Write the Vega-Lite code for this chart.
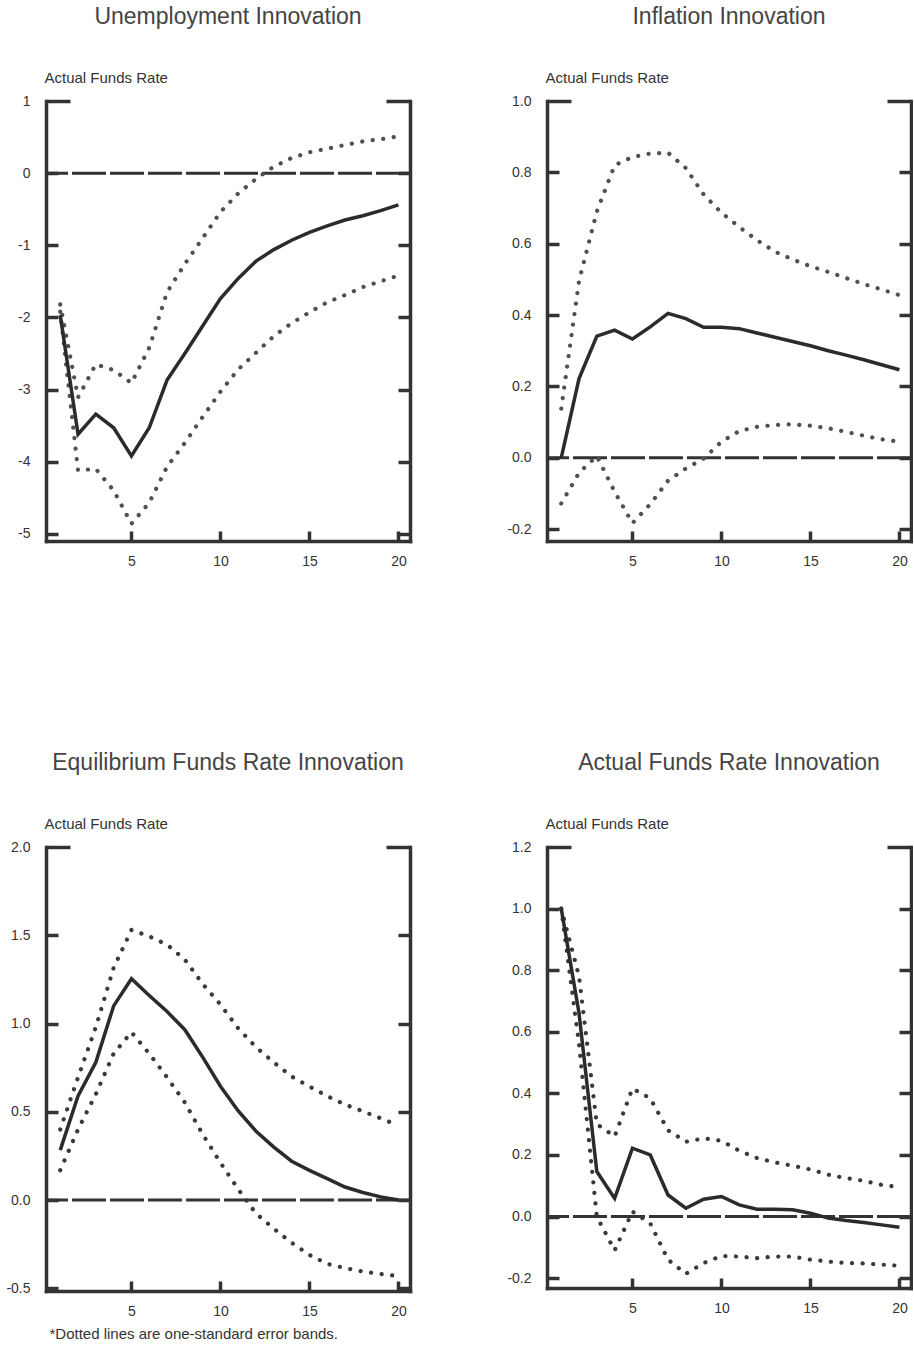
{
  "$schema": "https://vega.github.io/schema/vega-lite/v6.json",
  "background": "white",
  "padding": {"left": 5, "top": 6, "right": 0, "bottom": 0},
  "datasets": {
    "irf": [
      {"panel": "U", "step": 1, "response": -1.97, "upper": -1.82, "lower": -1.92},
      {"panel": "U", "step": 2, "response": -3.62, "upper": -3.11, "lower": -4.12},
      {"panel": "U", "step": 3, "response": -3.34, "upper": -2.65, "lower": -4.10},
      {"panel": "U", "step": 4, "response": -3.53, "upper": -2.73, "lower": -4.40},
      {"panel": "U", "step": 5, "response": -3.92, "upper": -2.91, "lower": -4.86},
      {"panel": "U", "step": 6, "response": -3.53, "upper": -2.42, "lower": -4.57},
      {"panel": "U", "step": 7, "response": -2.87, "upper": -1.65, "lower": -4.07},
      {"panel": "U", "step": 8, "response": -2.50, "upper": -1.26, "lower": -3.74},
      {"panel": "U", "step": 9, "response": -2.12, "upper": -0.90, "lower": -3.38},
      {"panel": "U", "step": 10, "response": -1.74, "upper": -0.54, "lower": -3.03},
      {"panel": "U", "step": 11, "response": -1.46, "upper": -0.28, "lower": -2.72},
      {"panel": "U", "step": 12, "response": -1.22, "upper": -0.08, "lower": -2.49},
      {"panel": "U", "step": 13, "response": -1.06, "upper": 0.09, "lower": -2.26},
      {"panel": "U", "step": 14, "response": -0.93, "upper": 0.21, "lower": -2.08},
      {"panel": "U", "step": 15, "response": -0.82, "upper": 0.29, "lower": -1.93},
      {"panel": "U", "step": 16, "response": -0.73, "upper": 0.34, "lower": -1.79},
      {"panel": "U", "step": 17, "response": -0.65, "upper": 0.39, "lower": -1.69},
      {"panel": "U", "step": 18, "response": -0.59, "upper": 0.44, "lower": -1.58},
      {"panel": "U", "step": 19, "response": -0.52, "upper": 0.47, "lower": -1.50},
      {"panel": "U", "step": 20, "response": -0.44, "upper": 0.51, "lower": -1.42},
      {"panel": "I", "step": 1, "response": 0.0, "upper": 0.138, "lower": -0.128},
      {"panel": "I", "step": 2, "response": 0.222, "upper": 0.496, "lower": -0.042},
      {"panel": "I", "step": 3, "response": 0.341, "upper": 0.69, "lower": 0.005},
      {"panel": "I", "step": 4, "response": 0.358, "upper": 0.82, "lower": -0.095},
      {"panel": "I", "step": 5, "response": 0.333, "upper": 0.843, "lower": -0.183},
      {"panel": "I", "step": 6, "response": 0.367, "upper": 0.853, "lower": -0.13},
      {"panel": "I", "step": 7, "response": 0.405, "upper": 0.855, "lower": -0.064},
      {"panel": "I", "step": 8, "response": 0.39, "upper": 0.812, "lower": -0.03},
      {"panel": "I", "step": 9, "response": 0.366, "upper": 0.738, "lower": -0.002},
      {"panel": "I", "step": 10, "response": 0.366, "upper": 0.687, "lower": 0.045},
      {"panel": "I", "step": 11, "response": 0.362, "upper": 0.647, "lower": 0.075},
      {"panel": "I", "step": 12, "response": 0.35, "upper": 0.61, "lower": 0.087},
      {"panel": "I", "step": 13, "response": 0.338, "upper": 0.578, "lower": 0.092},
      {"panel": "I", "step": 14, "response": 0.326, "upper": 0.556, "lower": 0.094},
      {"panel": "I", "step": 15, "response": 0.314, "upper": 0.537, "lower": 0.09},
      {"panel": "I", "step": 16, "response": 0.30, "upper": 0.521, "lower": 0.083},
      {"panel": "I", "step": 17, "response": 0.288, "upper": 0.504, "lower": 0.073},
      {"panel": "I", "step": 18, "response": 0.275, "upper": 0.487, "lower": 0.062},
      {"panel": "I", "step": 19, "response": 0.261, "upper": 0.472, "lower": 0.052},
      {"panel": "I", "step": 20, "response": 0.247, "upper": 0.456, "lower": 0.045},
      {"panel": "E", "step": 1, "response": 0.283, "upper": 0.40, "lower": 0.169},
      {"panel": "E", "step": 2, "response": 0.59, "upper": 0.695, "lower": 0.40},
      {"panel": "E", "step": 3, "response": 0.78, "upper": 0.98, "lower": 0.60},
      {"panel": "E", "step": 4, "response": 1.10, "upper": 1.316, "lower": 0.83},
      {"panel": "E", "step": 5, "response": 1.254, "upper": 1.53, "lower": 0.951},
      {"panel": "E", "step": 6, "response": 1.159, "upper": 1.494, "lower": 0.83},
      {"panel": "E", "step": 7, "response": 1.068, "upper": 1.447, "lower": 0.695},
      {"panel": "E", "step": 8, "response": 0.965, "upper": 1.362, "lower": 0.553},
      {"panel": "E", "step": 9, "response": 0.81, "upper": 1.225, "lower": 0.373},
      {"panel": "E", "step": 10, "response": 0.645, "upper": 1.108, "lower": 0.212},
      {"panel": "E", "step": 11, "response": 0.505, "upper": 0.973, "lower": 0.061},
      {"panel": "E", "step": 12, "response": 0.39, "upper": 0.866, "lower": -0.076},
      {"panel": "E", "step": 13, "response": 0.30, "upper": 0.78, "lower": -0.162},
      {"panel": "E", "step": 14, "response": 0.22, "upper": 0.70, "lower": -0.242},
      {"panel": "E", "step": 15, "response": 0.168, "upper": 0.643, "lower": -0.311},
      {"panel": "E", "step": 16, "response": 0.122, "upper": 0.589, "lower": -0.361},
      {"panel": "E", "step": 17, "response": 0.074, "upper": 0.541, "lower": -0.385},
      {"panel": "E", "step": 18, "response": 0.043, "upper": 0.503, "lower": -0.405},
      {"panel": "E", "step": 19, "response": 0.018, "upper": 0.463, "lower": -0.419},
      {"panel": "E", "step": 20, "response": 0.0, "upper": 0.423, "lower": -0.431},
      {"panel": "A", "step": 1, "response": 1.0, "upper": 1.0, "lower": 1.0},
      {"panel": "A", "step": 2, "response": 0.66, "upper": 0.78, "lower": 0.56},
      {"panel": "A", "step": 3, "response": 0.146, "upper": 0.30, "lower": 0.0},
      {"panel": "A", "step": 4, "response": 0.059, "upper": 0.26, "lower": -0.11},
      {"panel": "A", "step": 5, "response": 0.222, "upper": 0.416, "lower": 0.016},
      {"panel": "A", "step": 6, "response": 0.20, "upper": 0.384, "lower": -0.022},
      {"panel": "A", "step": 7, "response": 0.07, "upper": 0.28, "lower": -0.14},
      {"panel": "A", "step": 8, "response": 0.027, "upper": 0.243, "lower": -0.186},
      {"panel": "A", "step": 9, "response": 0.056, "upper": 0.254, "lower": -0.151},
      {"panel": "A", "step": 10, "response": 0.065, "upper": 0.246, "lower": -0.128},
      {"panel": "A", "step": 11, "response": 0.038, "upper": 0.214, "lower": -0.13},
      {"panel": "A", "step": 12, "response": 0.024, "upper": 0.19, "lower": -0.135},
      {"panel": "A", "step": 13, "response": 0.024, "upper": 0.176, "lower": -0.13},
      {"panel": "A", "step": 14, "response": 0.022, "upper": 0.165, "lower": -0.13},
      {"panel": "A", "step": 15, "response": 0.011, "upper": 0.153, "lower": -0.14},
      {"panel": "A", "step": 16, "response": -0.005, "upper": 0.136, "lower": -0.146},
      {"panel": "A", "step": 17, "response": -0.013, "upper": 0.125, "lower": -0.151},
      {"panel": "A", "step": 18, "response": -0.019, "upper": 0.116, "lower": -0.152},
      {"panel": "A", "step": 19, "response": -0.027, "upper": 0.103, "lower": -0.156},
      {"panel": "A", "step": 20, "response": -0.035, "upper": 0.095, "lower": -0.16}
    ]
  },
  "columns": 2,
  "spacing": {"row": 306, "column": 137},
  "bounds": "flush",
  "concat": [
    {
      "width": 364, "height": 440,
      "title": "Unemployment Innovation",
      "layer": [
        {
          "data": {"values": [{"ref": "zero"}]},
          "mark": {"type": "rule", "strokeDash": [34, 4], "strokeWidth": 3, "color": "#333"},
          "encoding": {"y": {"datum": 0, "type": "quantitative", "scale": {"domain": [-5.1, 1], "nice": false, "zero": false},
            "axis": {"orient": "right", "labels": false, "title": null, "values": [-5, -4, -3, -2, -1, 0, 1],
              "tickSize": {"condition": {"test": "datum.value > 0.99", "value": -24}, "value": -12}}}}
        },
        {
          "data": {"name": "irf"},
          "transform": [{"filter": "datum.panel == 'U'"}, {"fold": ["upper", "lower"], "as": ["band", "bandValue"]}],
          "mark": {"type": "line", "strokeDash": [0.1, 10.5], "strokeCap": "round", "strokeWidth": 4.2, "color": "#505050"},
          "encoding": {
            "x": {"field": "step", "type": "quantitative"},
            "y": {"field": "bandValue", "type": "quantitative", "axis": null},
            "detail": {"field": "band"}
          }
        },
        {
          "data": {"name": "irf"},
          "transform": [{"filter": "datum.panel == 'U'"}],
          "mark": {"type": "line", "strokeWidth": 3.5, "color": "#2b2b2b"},
          "encoding": {
            "x": {"field": "step", "type": "quantitative", "scale": {"domain": [0.2, 20.65], "nice": false, "zero": false},
              "axis": {"values": [5, 10, 15, 20], "format": "d", "tickSize": -10, "labelPadding": 23, "title": null}},
            "y": {"field": "response", "type": "quantitative",
              "axis": {"orient": "left", "values": [-5, -4, -3, -2, -1, 0, 1],
                "labelExpr": "replace(format(datum.value, 'd'), '\u2212', '-')",
                "tickSize": {"condition": {"test": "datum.value > 0.99", "value": -24}, "value": -12},
                "labelPadding": {"condition": {"test": "datum.value > 0.99", "value": 40}, "value": 28},
                "title": "Actual Funds Rate", "titleAngle": 0, "titleAlign": "left", "titleBaseline": "alphabetic", "titleX": -2, "titleY": -19}}
          }
        }
      ],
      "resolve": {"axis": {"y": "independent"}}
    },
    {
      "width": 364, "height": 440,
      "title": "Inflation Innovation",
      "layer": [
        {
          "data": {"values": [{"ref": "zero"}]},
          "mark": {"type": "rule", "strokeDash": [34, 4], "strokeWidth": 3, "color": "#333"},
          "encoding": {"y": {"datum": 0, "type": "quantitative", "scale": {"domain": [-0.233, 1.0], "nice": false, "zero": false},
            "axis": {"orient": "right", "labels": false, "title": null, "values": [-0.2, 0, 0.2, 0.4, 0.6, 0.8, 1.0],
              "tickSize": {"condition": {"test": "datum.value > 0.99", "value": -24}, "value": -12}}}}
        },
        {
          "data": {"name": "irf"},
          "transform": [{"filter": "datum.panel == 'I'"}, {"fold": ["upper", "lower"], "as": ["band", "bandValue"]}],
          "mark": {"type": "line", "strokeDash": [0.1, 10.5], "strokeCap": "round", "strokeWidth": 4.2, "color": "#505050"},
          "encoding": {
            "x": {"field": "step", "type": "quantitative"},
            "y": {"field": "bandValue", "type": "quantitative", "axis": null},
            "detail": {"field": "band"}
          }
        },
        {
          "data": {"name": "irf"},
          "transform": [{"filter": "datum.panel == 'I'"}],
          "mark": {"type": "line", "strokeWidth": 3.5, "color": "#2b2b2b"},
          "encoding": {
            "x": {"field": "step", "type": "quantitative", "scale": {"domain": [0.2, 20.65], "nice": false, "zero": false},
              "axis": {"values": [5, 10, 15, 20], "format": "d", "tickSize": -10, "labelPadding": 23, "title": null}},
            "y": {"field": "response", "type": "quantitative",
              "axis": {"orient": "left", "values": [-0.2, 0, 0.2, 0.4, 0.6, 0.8, 1.0],
                "labelExpr": "replace(format(datum.value, '.1f'), '\u2212', '-')",
                "tickSize": {"condition": {"test": "datum.value > 0.99", "value": -24}, "value": -12},
                "labelPadding": {"condition": {"test": "datum.value > 0.99", "value": 40}, "value": 28},
                "title": "Actual Funds Rate", "titleAngle": 0, "titleAlign": "left", "titleBaseline": "alphabetic", "titleX": -2, "titleY": -19}}
          }
        }
      ],
      "resolve": {"axis": {"y": "independent"}}
    },
    {
      "width": 364, "height": 444,
      "title": "Equilibrium Funds Rate Innovation",
      "layer": [
        {
          "data": {"values": [{"ref": "zero"}]},
          "mark": {"type": "rule", "strokeDash": [34, 4], "strokeWidth": 3, "color": "#333"},
          "encoding": {"y": {"datum": 0, "type": "quantitative", "scale": {"domain": [-0.515, 2.0], "nice": false, "zero": false},
            "axis": {"orient": "right", "labels": false, "title": null, "values": [-0.5, 0, 0.5, 1.0, 1.5, 2.0],
              "tickSize": {"condition": {"test": "datum.value > 1.99", "value": -24}, "value": -12}}}}
        },
        {
          "data": {"name": "irf"},
          "transform": [{"filter": "datum.panel == 'E'"}, {"fold": ["upper", "lower"], "as": ["band", "bandValue"]}],
          "mark": {"type": "line", "strokeDash": [0.1, 10.5], "strokeCap": "round", "strokeWidth": 4.2, "color": "#3a3a3a"},
          "encoding": {
            "x": {"field": "step", "type": "quantitative"},
            "y": {"field": "bandValue", "type": "quantitative", "axis": null},
            "detail": {"field": "band"}
          }
        },
        {
          "data": {"name": "irf"},
          "transform": [{"filter": "datum.panel == 'E'"}],
          "mark": {"type": "line", "strokeWidth": 3.5, "color": "#2b2b2b"},
          "encoding": {
            "x": {"field": "step", "type": "quantitative", "scale": {"domain": [0.2, 20.65], "nice": false, "zero": false},
              "axis": {"values": [5, 10, 15, 20], "format": "d", "tickSize": -10, "labelPadding": 23,
                "title": "*Dotted lines are one-standard error bands.", "titleFontSize": 15, "titleAnchor": "start", "titleAlign": "left", "titleBaseline": "alphabetic", "titleX": 3, "titleY": 47}},
            "y": {"field": "response", "type": "quantitative",
              "axis": {"orient": "left", "values": [-0.5, 0, 0.5, 1.0, 1.5, 2.0],
                "labelExpr": "replace(format(datum.value, '.1f'), '\u2212', '-')",
                "tickSize": {"condition": {"test": "datum.value > 1.99", "value": -24}, "value": -12},
                "labelPadding": {"condition": {"test": "datum.value > 1.99", "value": 40}, "value": 28},
                "title": "Actual Funds Rate", "titleAngle": 0, "titleAlign": "left", "titleBaseline": "alphabetic", "titleX": -2, "titleY": -19}}
          }
        }
      ],
      "resolve": {"axis": {"y": "independent"}}
    },
    {
      "width": 364, "height": 441,
      "title": "Actual Funds Rate Innovation",
      "layer": [
        {
          "data": {"values": [{"ref": "zero"}]},
          "mark": {"type": "rule", "strokeDash": [34, 4], "strokeWidth": 3, "color": "#333"},
          "encoding": {"y": {"datum": 0, "type": "quantitative", "scale": {"domain": [-0.232, 1.2], "nice": false, "zero": false},
            "axis": {"orient": "right", "labels": false, "title": null, "values": [-0.2, 0, 0.2, 0.4, 0.6, 0.8, 1.0, 1.2],
              "tickSize": {"condition": {"test": "datum.value > 1.19", "value": -24}, "value": -12}}}}
        },
        {
          "data": {"name": "irf"},
          "transform": [{"filter": "datum.panel == 'A'"}, {"fold": ["upper", "lower"], "as": ["band", "bandValue"]}],
          "mark": {"type": "line", "strokeDash": [0.1, 10.5], "strokeCap": "round", "strokeWidth": 4.2, "color": "#3a3a3a"},
          "encoding": {
            "x": {"field": "step", "type": "quantitative"},
            "y": {"field": "bandValue", "type": "quantitative", "axis": null},
            "detail": {"field": "band"}
          }
        },
        {
          "data": {"name": "irf"},
          "transform": [{"filter": "datum.panel == 'A'"}],
          "mark": {"type": "line", "strokeWidth": 3.5, "color": "#2b2b2b"},
          "encoding": {
            "x": {"field": "step", "type": "quantitative", "scale": {"domain": [0.2, 20.65], "nice": false, "zero": false},
              "axis": {"values": [5, 10, 15, 20], "format": "d", "tickSize": -10, "labelPadding": 23, "title": null}},
            "y": {"field": "response", "type": "quantitative",
              "axis": {"orient": "left", "values": [-0.2, 0, 0.2, 0.4, 0.6, 0.8, 1.0, 1.2],
                "labelExpr": "replace(format(datum.value, '.1f'), '\u2212', '-')",
                "tickSize": {"condition": {"test": "datum.value > 1.19", "value": -24}, "value": -12},
                "labelPadding": {"condition": {"test": "datum.value > 1.19", "value": 40}, "value": 28},
                "title": "Actual Funds Rate", "titleAngle": 0, "titleAlign": "left", "titleBaseline": "alphabetic", "titleX": -2, "titleY": -19}}
          }
        }
      ],
      "resolve": {"axis": {"y": "independent"}}
    }
  ],
  "config": {
    "view": {"stroke": null},
    "axis": {
      "domainColor": "#333", "domainWidth": 3.5, "domainCap": "square",
      "tickColor": "#333", "tickWidth": 3.5,
      "labelFont": "Liberation Sans", "labelFontSize": 14, "labelColor": "#333",
      "titleFont": "Liberation Sans", "titleFontSize": 15, "titleFontWeight": "normal", "titleColor": "#333",
      "grid": false
    },
    "title": {"font": "Liberation Sans", "fontSize": 23, "fontWeight": "normal", "color": "#444", "offset": 41, "anchor": "middle", "frame": "group"}
  }
}
